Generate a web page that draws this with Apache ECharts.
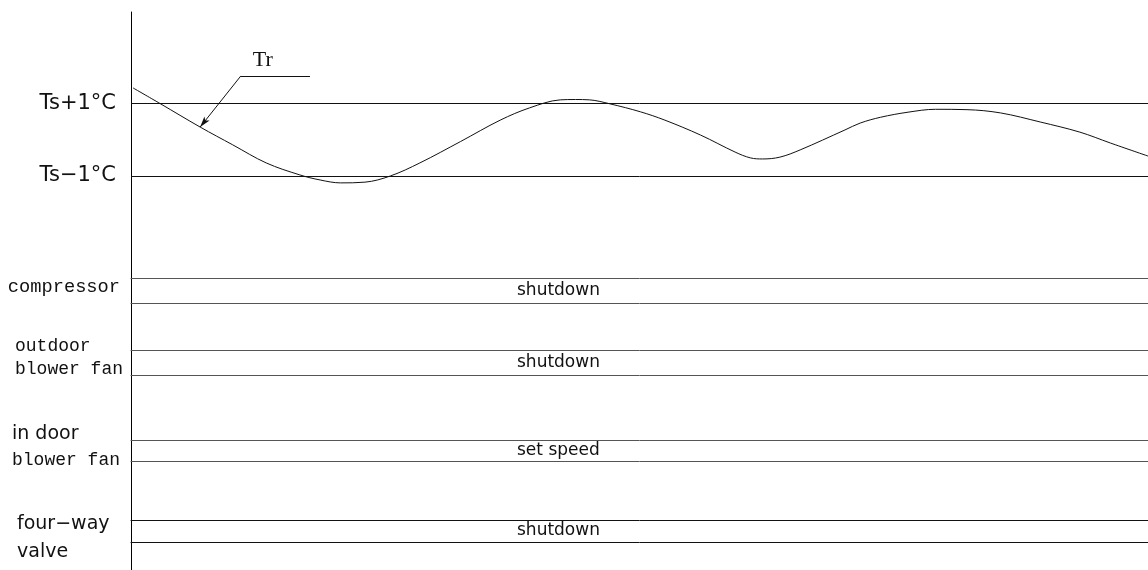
<!DOCTYPE html>
<html><head><meta charset="utf-8">
<script src="https://cdn.jsdelivr.net/npm/echarts@6/dist/echarts.min.js"></script>
<style>html,body{margin:0;padding:0;background:#fff}#c{width:1148px;height:570px}</style>
</head><body><div id="c"></div>
<script>
// ---- data ----
const trTime  = [0.2, 2.85, 6.8, 10.0, 13.3, 16.6, 18.6, 20.6, 23.0, 25.5, 28.4, 32.4, 36.3, 39.2, 42.2, 43.7, 45.1, 47.1, 50.1, 52.5, 56.0, 59.4, 60.9, 62.1, 63.8, 65.8, 70.2, 71.7, 73.7, 76.4, 79.1, 82.2, 85.5, 89.4, 93.3, 96.3, 100];
const trValue = [1.43, 1.0, 0.35, -0.14, -0.64, -0.97, -1.11, -1.19, -1.17, -1.0, -0.64, -0.05, 0.54, 0.88, 1.10, 1.11, 1.10, 0.99, 0.77, 0.54, 0.13, -0.34, -0.50, -0.53, -0.48, -0.28, 0.27, 0.46, 0.62, 0.76, 0.84, 0.83, 0.74, 0.49, 0.21, -0.09, -0.45];
const tickValues = [1, -1];
const tickLabels = ['Ts+1°C', 'Ts\u22121°C'];
const componentNames  = ['compressor', 'outdoor\nblower fan', 'in door\nblower fan', 'four\u2212way\nvalve'];
const componentStates = ['shutdown', 'shutdown', 'set speed', 'shutdown'];
const stateSpan = [0, 100];
const trPointer = [[6.8, 0.35], [10.8, 1.76], [17.6, 1.76]];
const trLabel = 'Tr';

// ---- layout / style ----
const SANS = "'DejaVu Sans'";
const MONO = "'Liberation Mono'";
const rowLayout = [
  {top: 278, height: 25, color: '#555', fonts: ['c'], align: 'right', margin: 11, padding: [0,0,7,0], lineHeight: 22},
  {top: 350, height: 25, color: '#555', fonts: ['m','m'], align: 'left', margin: 116, padding: [0,0,10,0], lineHeight: 23.5},
  {top: 440, height: 21, color: '#555', fonts: ['s','m'], align: 'left', margin: 119, padding: [0,0,6,0], lineHeight: 26},
  {top: 520, height: 22, color: '#111', fonts: ['s','s'], align: 'left', margin: 114, padding: [14,0,0,0], lineHeight: 27.5}
];

const grids = [{left: 131, right: 0, top: 12, bottom: 0}];
const xAxes = [{type: 'value', min: stateSpan[0], max: stateSpan[1], show: false, gridIndex: 0}];
const yAxes = [{
  type: 'value', gridIndex: 0, min: -11.869, max: 3.524,
  axisLine: {show: true, lineStyle: {color: '#000', width: 1}},
  axisTick: {show: false}, splitLine: {show: false},
  axisLabel: {
    customValues: tickValues, margin: 15, color: '#111', fontSize: 21, fontFamily: SANS,
    formatter: v => { const i = tickValues.indexOf(v); return i >= 0 ? tickLabels[i] : ''; }
  }
}];
const series = [{
  type: 'line', xAxisIndex: 0, yAxisIndex: 0,
  data: trTime.map((t, i) => [t, trValue[i]]),
  smooth: 0.35, showSymbol: false, symbol: 'none',
  lineStyle: {color: '#111', width: 1},
  silent: true,
  markLine: {
    silent: true, symbol: ['none', 'none'], animation: false,
    lineStyle: {color: '#111', width: 1, type: 'solid'},
    label: {show: false},
    data: [
      ...tickValues.map(v => ({yAxis: v})),
      [{coord: trPointer[0], symbol: 'arrow', symbolSize: [5, 11]}, {coord: trPointer[1], symbol: 'none'}],
      [{coord: trPointer[1], symbol: 'none',
        label: {show: true, formatter: trLabel, position: 'insideStartTop', distance: [12, 5],
                fontFamily: "'Liberation Serif'", fontSize: 22, color: '#111'}},
       {coord: trPointer[2], symbol: 'none'}]
    ]
  }
}];

componentNames.forEach((name, i) => {
  const L = rowLayout[i];
  const gi = i + 1;
  grids.push({left: 131, right: 0, top: L.top, height: L.height, show: false});
  const bandAxis = pos => ({
    type: 'value', gridIndex: gi, position: pos, min: stateSpan[0], max: stateSpan[1],
    axisLine: {show: true, onZero: false, lineStyle: {color: L.color, width: 1}},
    axisTick: {show: false}, axisLabel: {show: false}, splitLine: {show: false}
  });
  const xi = xAxes.length;
  xAxes.push(bandAxis('bottom'));
  xAxes.push(bandAxis('top'));
  yAxes.push({
    type: 'category', gridIndex: gi, data: [name],
    axisLine: {show: false}, axisTick: {show: false},
    axisLabel: {
      interval: 0, align: L.align, margin: L.margin, padding: L.padding,
      formatter: v => v.split('\n').map((s, k) => '{' + L.fonts[k] + '|' + s + '}').join('\n'),
      rich: {
        c: {fontFamily: MONO, fontSize: 18.7, color: '#111', lineHeight: L.lineHeight},
        m: {fontFamily: MONO, fontSize: 18, color: '#111', lineHeight: L.lineHeight},
        s: {fontFamily: SANS, fontSize: 19, color: '#111', lineHeight: L.lineHeight}
      }
    }
  });
  series.push({
    type: 'bar', xAxisIndex: xi, yAxisIndex: gi, barWidth: '100%', silent: true,
    data: [stateSpan[1]],
    itemStyle: {color: 'rgba(0,0,0,0)'},
    label: {show: true, position: [386, '50%'], align: 'left', verticalAlign: 'middle',
            formatter: componentStates[i], fontFamily: SANS, fontSize: 17, color: '#111'}
  });
});

const chart = echarts.init(document.getElementById('c'), null, {renderer: 'canvas'});
chart.setOption({animation: false, backgroundColor: '#fff', grid: grids, xAxis: xAxes, yAxis: yAxes, series});
</script></body></html>
